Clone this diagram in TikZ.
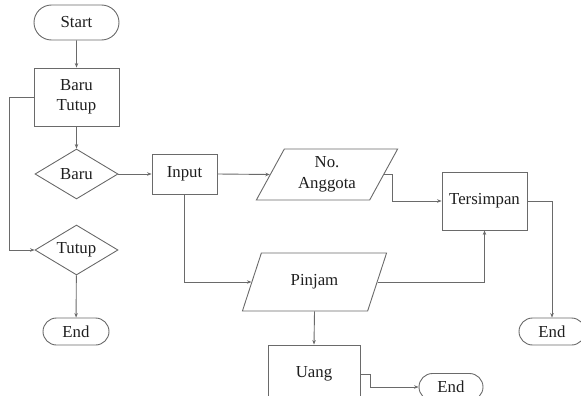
\documentclass[tikz,border=0pt]{standalone}
\usepackage{fontspec}
\setmainfont{Liberation Serif}
\usetikzlibrary{shapes.geometric,shapes.misc,arrows.meta}
\definecolor{ln}{HTML}{6A6A6A}
\definecolor{tx}{HTML}{1E1E1E}
\begin{document}
\begin{tikzpicture}[x=1pt,y=-1pt,
  base/.style={draw=ln,line width=0.9pt,text=tx,font=\fontsize{16.8}{20}\selectfont,inner sep=0pt,align=center},
  term/.style={base,rounded rectangle,minimum height=27pt},
  procbox/.style={base,rectangle},
  decis/.style={base,diamond,minimum width=83pt,minimum height=50pt,aspect=1.66},
  iobox/.style={base,trapezium,trapezium stretches=true,trapezium left angle=62,trapezium right angle=118},
  conn/.style={draw=ln,line width=0.9pt,-{Stealth[length=4.5pt,width=3.5pt]}}]
\useasboundingbox (0,0) rectangle (581,396);
\node[term,minimum width=85pt,minimum height=35pt] (start) at (76.5,22.5) {Start};
\node[procbox,minimum width=85pt,minimum height=58pt] (bt) at (76.5,97) {Baru\\Tutup};
\node[decis] (baru) at (76.5,174) {Baru};
\node[decis] (tutup) at (76.5,250) {Tutup};
\node[term,minimum width=66pt] (end1) at (76,331.5) {End};
\node[procbox,minimum width=65pt,minimum height=40pt] (input) at (184.5,174) {Input};
\node[iobox,minimum width=142pt,minimum height=51pt,font=\fontsize{16.8}{21}\selectfont] (noa) at (327,174.5) {No.\\Anggota};
\node[procbox,minimum width=85pt,minimum height=58pt] (ters) at (484.5,201) {Tersimpan};
\node[term,minimum width=66pt] (end2) at (552,331.5) {End};
\node[iobox,minimum width=145pt,minimum height=58pt,trapezium left angle=60,trapezium right angle=120] (pinjam) at (314.5,282) {Pinjam};
\node[procbox,minimum width=92pt,minimum height=58pt] (uang) at (314,374) {Uang};
\node[term,minimum width=64pt] (end3) at (451,387) {End};
\draw[conn] (start) -- (bt);
\draw[conn] (bt) -- (baru);
\draw[conn] (bt.west) -- ++(-24,0) |- (tutup.west);
\draw[conn] (tutup) -- (end1);
\draw[conn] (baru.east) -- (input.west);
\draw[conn] (input.east) -- (noa.west);
\draw[conn] (noa.east) -- ++(8,0) |- (ters.west);
\draw[conn] (input.south) |- (pinjam.west);
\draw[conn] (pinjam.east) -| (ters.south);
\draw[conn] (pinjam.south) -- (uang.north);
\draw[conn] (ters.east) -| (end2.north);
\draw[conn] (uang.east) -- ++(10,0) |- (end3.west);
\end{tikzpicture}
\end{document}
